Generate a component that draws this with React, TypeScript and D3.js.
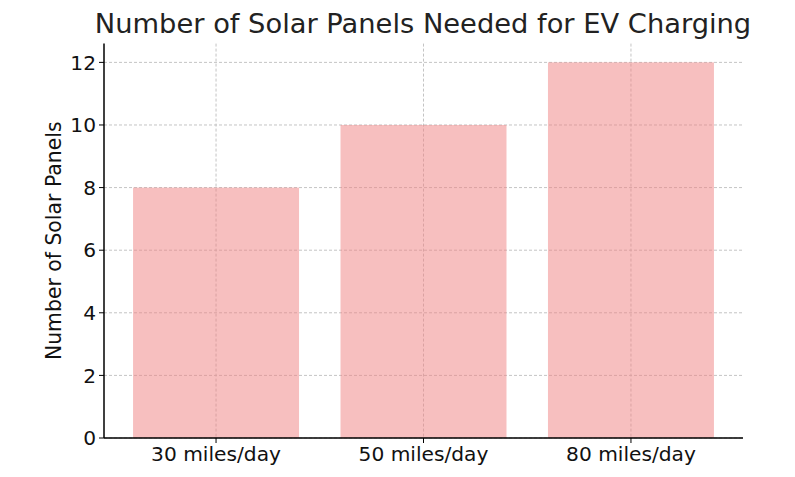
import React from "react";
import * as d3 from "d3";

const categories = ["30 miles/day", "50 miles/day", "80 miles/day"];
const panels = [8, 10, 12];
const yTicks = [0, 2, 4, 6, 8, 10, 12];
const title = "Number of Solar Panels Needed for EV Charging";
const yLabel = "Number of Solar Panels";

const W = 795;
const H = 477;
const left = 104;
const right = 743;
const top = 43.6;
const bottom = 438;

export default function App() {
  const n = categories.length;
  const x = d3
    .scaleLinear()
    .domain([-0.4 - 0.05 * (n - 1 + 0.8), n - 1 + 0.4 + 0.05 * (n - 1 + 0.8)])
    .range([left, right]);
  const y = d3.scaleLinear().domain([0, 12 * 1.05]).range([bottom, top]);
  const font = "DejaVu Sans, sans-serif";
  const gridColor = "#c4c4c4";
  return (
    <svg
      width={W}
      height={H}
      style={{ position: "absolute", left: 0, top: 0, background: "#fff" }}
      fontFamily={font}
    >
      <rect width={W} height={H} fill="#fff" />
      {/* grid */}
      {yTicks.map((t) => (
        <line
          key={"gy" + t}
          x1={left}
          x2={right}
          y1={y(t)}
          y2={y(t)}
          stroke={gridColor}
          strokeWidth={1}
          strokeDasharray="3,2"
        />
      ))}
      {categories.map((c, i) => (
        <line
          key={"gx" + c}
          x1={x(i)}
          x2={x(i)}
          y1={top}
          y2={bottom}
          stroke={gridColor}
          strokeWidth={1}
          strokeDasharray="3,2"
        />
      ))}
      {/* bars */}
      {panels.map((v, i) => (
        <rect
          key={"b" + i}
          x={x(i - 0.4)}
          width={x(i + 0.4) - x(i - 0.4)}
          y={y(v)}
          height={y(0) - y(v)}
          fill="lightcoral"
          fillOpacity={0.5}
        />
      ))}
      {/* spines */}
      <line x1={left} x2={left} y1={top} y2={bottom} stroke="#000" strokeWidth={1.5} />
      <line x1={left} x2={right} y1={bottom} y2={bottom} stroke="#000" strokeWidth={1.5} />
      {/* y ticks */}
      {yTicks.map((t) => (
        <g key={"yt" + t}>
          <line x1={left - 5} x2={left} y1={y(t)} y2={y(t)} stroke="#000" strokeWidth={1} />
          <text
            x={left - 8}
            y={y(t)}
            dy="0.36em"
            textAnchor="end"
            fontSize={20.2}
            fill="#111"
          >
            {t}
          </text>
        </g>
      ))}
      {/* x ticks */}
      {categories.map((c, i) => (
        <g key={"xt" + c}>
          <line x1={x(i)} x2={x(i)} y1={bottom} y2={bottom + 5} stroke="#000" strokeWidth={1} />
          <text x={x(i)} y={460.8} textAnchor="middle" fontSize={20.2} fill="#111">
            {c}
          </text>
        </g>
      ))}
      {/* y label */}
      <text
        transform={`translate(61, ${(top + bottom) / 2}) rotate(-90)`}
        textAnchor="middle"
        fontSize={20.4}
        fill="#111"
      >
        {yLabel}
      </text>
      {/* title */}
      <text x={(left + right) / 2 - 0.5} y={33} textAnchor="middle" fontSize={27.3} fill="#222">
        {title}
      </text>
    </svg>
  );
}
